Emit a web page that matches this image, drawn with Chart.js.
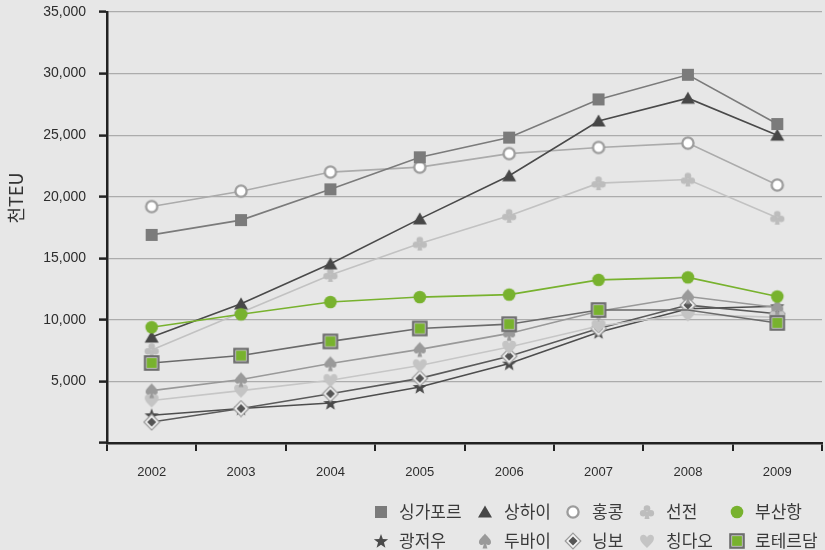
<!DOCTYPE html>
<html>
<head>
<meta charset="utf-8">
<script src="https://cdn.jsdelivr.net/npm/chart.js@4.4.1/dist/chart.umd.min.js"></script>
<style>
  html, body { margin: 0; padding: 0; background: #e7e7e7; }
  #wrap { position: relative; width: 825px; height: 550px; overflow: hidden; }
  #c { position: absolute; left: 0; top: 0; }
  .lg { position: absolute; font-family: "Noto Sans CJK KR", "Liberation Sans", sans-serif; font-size: 17px; color: #3a3a3a; line-height: 22px; white-space: nowrap; }
  .mk { position: absolute; }
</style>
</head>
<body>
<div id="wrap">
  <canvas id="c" width="825" height="550"></canvas>
</div>
<script>
// ---- data (thousand TEU) ----
const years = ['2002', '2003', '2004', '2005', '2006', '2007', '2008', '2009'];
const singapore = [16900, 18100, 20600, 23200, 24800, 27900, 29900, 25900];
const shanghai  = [8600, 11300, 14550, 18200, 21700, 26150, 28000, 25000];
const hongkong  = [19200, 20450, 22000, 22400, 23500, 24000, 24350, 20950];
const shenzhen  = [7550, 10600, 13650, 16200, 18450, 21100, 21400, 18300];
const busan     = [9400, 10450, 11450, 11850, 12050, 13250, 13450, 11900];
const guangzhou = [2250, 2800, 3250, 4550, 6450, 9000, 10900, 11100];
const dubai     = [4250, 5150, 6450, 7600, 8900, 10700, 11900, 11000];
const ningbo    = [1700, 2800, 4000, 5250, 7050, 9300, 11200, 10500];
const qingdao   = [3450, 4250, 5100, 6300, 7800, 9500, 10450, 10200];
const rotterdam = [6500, 7100, 8250, 9300, 9650, 10800, 10800, 9750];
const yTicks = [0, 5000, 10000, 15000, 20000, 25000, 30000, 35000];

// ---- marker images ----
function mk(size, fn) {
  const c = document.createElement('canvas');
  c.width = size; c.height = size;
  const ctx = c.getContext('2d');
  ctx.translate(size / 2, size / 2);
  fn(ctx);
  return c;
}
const M = {
  square: (col) => mk(14, ctx => { ctx.fillStyle = col; ctx.fillRect(-6, -6, 12, 12); }),
  triangle: (col) => mk(16, ctx => { ctx.fillStyle = col; ctx.beginPath(); ctx.moveTo(0, -6.5); ctx.lineTo(7, 5.5); ctx.lineTo(-7, 5.5); ctx.closePath(); ctx.fill(); }),
  openCircle: (col) => mk(16, ctx => { ctx.fillStyle = '#fff'; ctx.strokeStyle = col; ctx.lineWidth = 2.3; ctx.beginPath(); ctx.arc(0, 0, 5.6, 0, Math.PI * 2); ctx.fill(); ctx.stroke(); }),
  circle: (col) => mk(16, ctx => { ctx.fillStyle = col; ctx.beginPath(); ctx.arc(0, 0, 6.3, 0, Math.PI * 2); ctx.fill(); }),
  club: (col) => mk(18, ctx => {
    ctx.fillStyle = col;
    [[0, -3.5], [-3.8, 1.3], [3.8, 1.3]].forEach(p => { ctx.beginPath(); ctx.arc(p[0], p[1], 3.3, 0, Math.PI * 2); ctx.fill(); });
    ctx.beginPath(); ctx.moveTo(-1, 0); ctx.lineTo(1, 0); ctx.lineTo(2.5, 7); ctx.lineTo(-2.5, 7); ctx.closePath(); ctx.fill();
  }),
  star: (col) => mk(18, ctx => {
    ctx.fillStyle = col; ctx.beginPath();
    for (let i = 0; i < 10; i++) {
      const r = i % 2 === 0 ? 7.5 : 3.1;
      const a = -Math.PI / 2 + i * Math.PI / 5;
      ctx.lineTo(r * Math.cos(a), r * Math.sin(a) + 0.6);
    }
    ctx.closePath(); ctx.fill();
  }),
  spade: (col) => mk(18, ctx => {
    ctx.fillStyle = col; ctx.beginPath();
    ctx.moveTo(0, -7.5);
    ctx.bezierCurveTo(2, -4.3, 7, -1.6, 5.9, 2.3);
    ctx.bezierCurveTo(4.9, 5, 1.3, 4.4, 0, 2.1);
    ctx.bezierCurveTo(-1.3, 4.4, -4.9, 5, -5.9, 2.3);
    ctx.bezierCurveTo(-7, -1.6, -2, -4.3, 0, -7.5);
    ctx.fill();
    ctx.beginPath(); ctx.moveTo(-0.8, 2); ctx.lineTo(0.8, 2); ctx.lineTo(2.4, 7.5); ctx.lineTo(-2.4, 7.5); ctx.closePath(); ctx.fill();
  }),
  heart: (col) => mk(18, ctx => {
    ctx.fillStyle = col; ctx.beginPath();
    ctx.moveTo(0, 7);
    ctx.bezierCurveTo(-3.2, 3.8, -7.4, 0.5, -6.9, -3.2);
    ctx.bezierCurveTo(-6.4, -7, -1.3, -7.2, 0, -3.4);
    ctx.bezierCurveTo(1.3, -7.2, 6.4, -7, 6.9, -3.2);
    ctx.bezierCurveTo(7.4, 0.5, 3.2, 3.8, 0, 7);
    ctx.fill();
  }),
  diamond: (col) => mk(18, ctx => {
    ctx.strokeStyle = '#9a9a9a'; ctx.fillStyle = '#f2f2f2'; ctx.lineWidth = 1.2;
    ctx.beginPath(); ctx.moveTo(0, -7.8); ctx.lineTo(7.8, 0); ctx.lineTo(0, 7.8); ctx.lineTo(-7.8, 0); ctx.closePath(); ctx.fill(); ctx.stroke();
    ctx.fillStyle = col;
    ctx.beginPath(); ctx.moveTo(0, -4.5); ctx.lineTo(4.5, 0); ctx.lineTo(0, 4.5); ctx.lineTo(-4.5, 0); ctx.closePath(); ctx.fill();
  }),
  borderSquare: (col) => mk(18, ctx => {
    ctx.fillStyle = '#6d6d6d'; ctx.fillRect(-7.8, -7.8, 15.6, 15.6);
    ctx.fillStyle = '#d9d9d9'; ctx.fillRect(-5.6, -5.6, 11.2, 11.2);
    ctx.fillStyle = col; ctx.fillRect(-4.9, -4.9, 9.8, 9.8);
  })
};

const GREEN = '#78b22e';
const series = [
  { name: '싱가포르', data: singapore, line: '#7b7b7b', marker: M.square('#7b7b7b'), order: 2 },
  { name: '상하이',   data: shanghai,  line: '#4a4a4a', marker: M.triangle('#474747'), order: 3 },
  { name: '홍콩',     data: hongkong,  line: '#ababab', marker: M.openCircle('#9c9c9c'), order: 4 },
  { name: '선전',     data: shenzhen,  line: '#c2c2c2', marker: M.club('#bdbdbd'), order: 5 },
  { name: '부산항',   data: busan,     line: GREEN,     marker: M.circle(GREEN), order: 1 },
  { name: '광저우',   data: guangzhou, line: '#4d4d4d', marker: M.star('#4a4a4a'), order: 9 },
  { name: '두바이',   data: dubai,     line: '#999999', marker: M.spade('#9a9a9a'), order: 6 },
  { name: '닝보',     data: ningbo,    line: '#5a5a5a', marker: M.diamond('#555555'), order: 8 },
  { name: '칭다오',   data: qingdao,   line: '#c6c6c6', marker: M.heart('#c4c4c4'), order: 7 },
  { name: '로테르담', data: rotterdam, line: '#6a6a6a', marker: M.borderSquare(GREEN), order: 0, hide: [6] }
];

const datasets = series.map(s => ({
  label: s.name,
  data: s.data,
  borderColor: s.line,
  backgroundColor: s.line,
  borderWidth: 1.6,
  tension: 0,
  pointStyle: s.marker,
  pointRadius: s.data.map((v, i) => (s.hide && s.hide.includes(i)) ? 0 : 6),
  pointHoverRadius: 6,
  order: s.order
}));

const FONT = '"Liberation Sans", Arial, sans-serif';

const yTitle = {
  id: 'yTitle',
  afterDraw(chart) {
    const ctx = chart.ctx;
    ctx.save();
    ctx.translate(16, 198);
    ctx.rotate(-Math.PI / 2);
    ctx.fillStyle = '#333';
    ctx.font = '18px "Noto Sans CJK KR", "Liberation Sans", sans-serif';
    ctx.textAlign = 'center';
    ctx.textBaseline = 'middle';
    ctx.fillText('천TEU', 0, 0);
    ctx.restore();
  }
};

new Chart(document.getElementById('c'), {
  type: 'line',
  data: { labels: years, datasets },
  options: {
    responsive: false,
    animation: false,
    events: [],
    layout: { autoPadding: false, padding: { left: 0, right: 3, top: 12, bottom: 62 } },
    plugins: { legend: { display: false }, tooltip: { enabled: false } },
    scales: {
      x: {
        offset: true,
        grid: { offset: true, drawOnChartArea: false, color: '#222', tickColor: '#222', tickLength: 8, lineWidth: 2 },
        border: { display: true, color: '#222', width: 2.5 },
        ticks: { color: '#2d2d2d', font: { family: FONT, size: 13 }, padding: 14, maxRotation: 0 },
        afterFit(scale) { scale.height = 45; scale.paddingLeft = 0; scale.paddingRight = 0; }
      },
      y: {
        min: 0, max: 35000,
        afterBuildTicks(scale) { scale.ticks = yTicks.map(v => ({ value: v })); },
        grid: {
          color: (c) => c.tick && c.tick.value === 0 ? 'rgba(0,0,0,0)' : '#acacac',
          lineWidth: 1.2,
          tickColor: '#222', tickLength: 8, tickWidth: 2.5
        },
        border: { display: true, color: '#222', width: 2.5 },
        ticks: {
          color: '#2d2d2d', font: { family: FONT, size: 14 }, padding: 13,
          callback: (v) => v === 0 ? '' : v.toLocaleString('en-US')
        },
        afterFit(scale) { scale.width = 107; scale.paddingTop = 0; scale.paddingBottom = 0; }
      }
    }
  },
  plugins: [yTitle]
});

// ---- HTML legend ----
const wrap = document.getElementById('wrap');
const cols = [
  { mx: 381, tx: 399 },
  { mx: 485, tx: 504 },
  { mx: 573, tx: 592 },
  { mx: 647, tx: 666 },
  { mx: 737, tx: 755 }
];
const rowsY = [512, 541];
series.forEach((s, i) => {
  const row = Math.floor(i / 5), col = i % 5;
  const y = rowsY[row];
  const m = s.marker;
  const mc = document.createElement('canvas');
  mc.width = m.width; mc.height = m.height;
  mc.getContext('2d').drawImage(m, 0, 0);
  mc.className = 'mk';
  mc.style.left = (cols[col].mx - m.width / 2) + 'px';
  mc.style.top = (y - m.height / 2) + 'px';
  wrap.appendChild(mc);
  const t = document.createElement('div');
  t.className = 'lg';
  t.textContent = s.name;
  t.style.left = cols[col].tx + 'px';
  t.style.top = (y - 12) + 'px';
  wrap.appendChild(t);
});
</script>
</body>
</html>
